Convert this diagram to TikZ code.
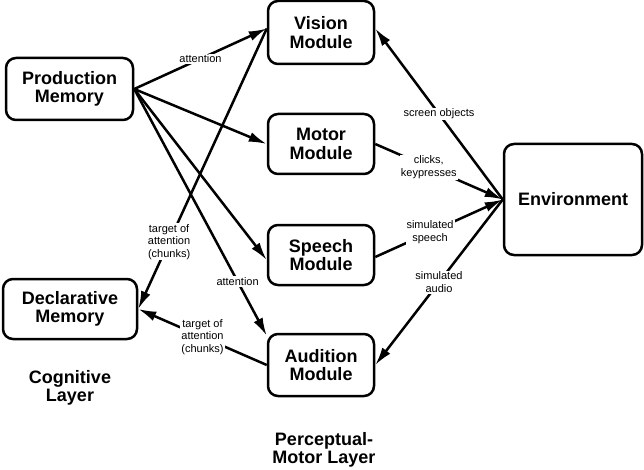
\documentclass[tikz,border=0pt]{standalone}
\usepackage{fontspec}
\setmainfont{Liberation Sans}
\usetikzlibrary{arrows.meta}

\begin{document}
\begin{tikzpicture}[x=1pt,y=-1pt,
    box/.style={draw,line width=2.5pt,rounded corners=10pt,align=center,inner sep=0pt,
        font=\fontsize{18}{18.5}\selectfont\bfseries},
    conn/.style={line width=2.5pt,-{Latex[length=18pt,width=10pt]}},
    lbl/.style={fill=white,inner sep=1pt,align=center,font=\fontsize{11}{12.5}\selectfont},
    layer/.style={align=center,font=\fontsize{18}{18.5}\selectfont\bfseries}]
    \useasboundingbox (0,0) rectangle (644,470);
    % cognitive side
    \node[box,minimum width=127pt,minimum height=62pt] (prod) at (69.5,89) {Production\\Memory};
    \node[box,minimum width=134pt,minimum height=60pt] (decl) at (70,309) {Declarative\\Memory};
    % perceptual-motor modules
    \node[box,minimum width=106pt,minimum height=63pt] (vis) at (321,32.5) {Vision\\Module};
    \node[box,minimum width=106pt,minimum height=60pt] (mot) at (321,144) {Motor\\Module};
    \node[box,minimum width=106pt,minimum height=60pt] (spe) at (321,255) {Speech\\Module};
    \node[box,minimum width=106pt,minimum height=62pt] (aud) at (321,365) {Audition\\Module};
    \node[box,minimum width=138pt,minimum height=111pt] (env) at (573,199.5) {Environment};
    \node[layer] (cog) at (70,388) {Cognitive\\Layer};
    \node[layer] (pml) at (324,450) {Perceptual-\\Motor Layer};
    % production memory fan
    \draw[conn] (prod.east) -- node[lbl,pos=0.5]{attention} ([yshift=4pt]vis.west);
    \draw[conn] (prod.east) -- (mot.west);
    \draw[conn] (prod.east) -- ([yshift=-5pt]spe.west);
    \draw[conn] (prod.east) -- node[lbl,pos=0.78]{attention} ([yshift=-3pt]aud.north west);
    % back to declarative memory
    \draw[conn] ([yshift=4pt]vis.west) -- node[lbl,pos=0.76]{target of\\attention\\(chunks)} (decl.east);
    \draw[conn] (aud.west) -- node[lbl,pos=0.5]{target of\\attention\\(chunks)} (decl.east);
    % environment
    \draw[conn] (env.west) -- node[lbl,pos=0.5]{screen objects} ([yshift=4pt]vis.east);
    \draw[conn] (mot.east) -- node[lbl,pos=0.42]{clicks,\\keypresses} (env.west);
    \draw[conn] ([yshift=-2pt]spe.east) -- node[lbl,pos=0.43]{simulated\\speech} (env.west);
    \draw[conn] (env.west) -- node[lbl,pos=0.5]{simulated\\audio} (aud.east);
\end{tikzpicture}
\end{document}
